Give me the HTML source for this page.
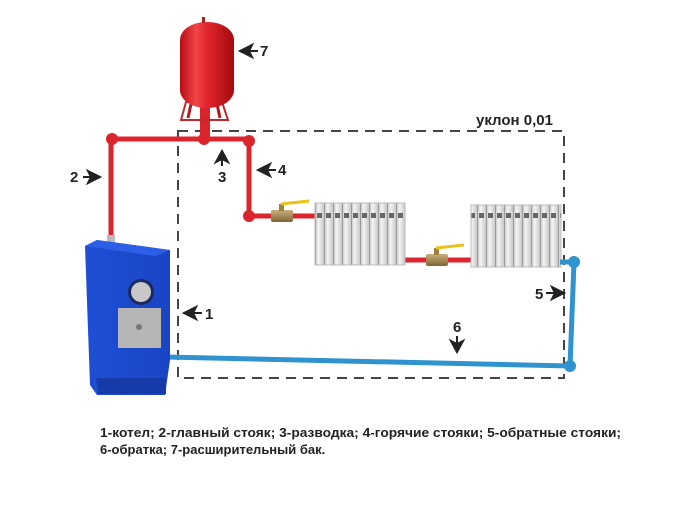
<!DOCTYPE html>
<html><head><meta charset="utf-8"><style>
html,body{margin:0;padding:0;background:#fff;}
svg{display:block;font-family:"Liberation Sans",sans-serif;}
</style></head><body>
<svg width="700" height="514" viewBox="0 0 700 514" xmlns="http://www.w3.org/2000/svg">
<defs>
<linearGradient id="tank" x1="0" x2="1"><stop offset="0" stop-color="#b80d12"/><stop offset="0.3" stop-color="#f2454a"/><stop offset="0.5" stop-color="#e0262c"/><stop offset="1" stop-color="#a30a0e"/></linearGradient>
<linearGradient id="rad" x1="0" x2="1"><stop offset="0" stop-color="#bdbdbd"/><stop offset="0.4" stop-color="#f4f4f4"/><stop offset="1" stop-color="#c8c8c8"/></linearGradient>
<linearGradient id="boil" x1="0" x2="1"><stop offset="0" stop-color="#1f4fd6"/><stop offset="1" stop-color="#1a44c4"/></linearGradient>
<linearGradient id="brass" x1="0" x2="0" y1="0" y2="1"><stop offset="0" stop-color="#c9b07a"/><stop offset="1" stop-color="#7e6535"/></linearGradient>
<pattern id="sec" width="9" height="70" patternUnits="userSpaceOnUse"><rect width="9" height="70" fill="url(#rad)"/><rect x="0" width="1" height="70" fill="#9a9a9a"/><rect x="2" y="3" width="5" height="5" fill="#666"/></pattern>
</defs>

<path d="M178 131 H564 V378 H178 Z" fill="none" stroke="#444" stroke-width="2" stroke-dasharray="10,7"/>
<text x="476" y="125" font-size="15" font-weight="bold" fill="#222">уклон 0,01</text>

<rect x="200" y="106" width="10" height="34" fill="#d7262b"/>
<path d="M186 102 L181 120 H228 L222 102 Z" fill="none" stroke="#c0282c" stroke-width="2"/>
<path d="M191 104 L188 118 M217 104 L220 118" stroke="#b01c20" stroke-width="3"/>
<rect x="180" y="22" width="54" height="86" rx="26" ry="18" fill="url(#tank)"/>
<rect x="202" y="17" width="3" height="6" fill="#b01c20"/>

<g stroke="#d9252b" stroke-width="5" fill="none">
<path d="M111 242 V139 H249 V216 H318"/>
<path d="M404 260 H472"/>
</g>
<g fill="#d9252b"><circle cx="112" cy="139" r="6"/><circle cx="204" cy="139" r="6"/><circle cx="249" cy="141" r="6"/><circle cx="249" cy="216" r="6"/></g>
<rect x="271" y="210" width="22" height="12" rx="2" fill="url(#brass)"/>
<rect x="279" y="204" width="5" height="7" fill="#a08040"/>
<path d="M281 204 L309 201" stroke="#e8c21a" stroke-width="3"/>
<rect x="426" y="254" width="22" height="12" rx="2" fill="url(#brass)"/>
<rect x="434" y="248" width="5" height="7" fill="#a08040"/>
<path d="M436 248 L464 245" stroke="#e8c21a" stroke-width="3"/>

<rect x="315" y="203" width="90" height="62" fill="url(#sec)" stroke="#bbb"/>
<rect x="471" y="205" width="90" height="62" fill="url(#sec)" stroke="#bbb"/>

<g stroke="#2f93cf" stroke-width="5" fill="none">
<path d="M560 262 H574 L570 366 L165 357"/>
</g>
<g fill="#2f93cf"><circle cx="574" cy="262" r="6"/><circle cx="570" cy="366" r="6"/></g>

<rect x="107" y="235" width="8" height="10" fill="#bbb"/>
<path d="M85 246 L97 240 L170 250 L170 360 L165 395 L97 395 L90 385 Z" fill="url(#boil)"/>
<path d="M85 246 L97 240 L170 250 L155 256 Z" fill="#2c5fe6"/>
<path d="M96 378 H166 V394 H98 Z" fill="#163aa8"/>
<circle cx="141" cy="292" r="13" fill="#1a2a60"/><circle cx="141" cy="292" r="10" fill="#c8c8c8"/>
<rect x="118" y="308" width="43" height="40" fill="#b6b6b6"/>
<circle cx="139" cy="327" r="3" fill="#777"/>

<g font-size="15" font-weight="bold" fill="#222">
<text x="260" y="56">7</text>
<path d="M240 51 L252 45 L249 51 L252 57 Z M248 51 H258" fill="#222" stroke="#222" stroke-width="2"/>
<text x="70" y="182">2</text>
<path d="M100 177 L88 171 L91 177 L88 183 Z M83 177 H92" fill="#222" stroke="#222" stroke-width="2"/>
<text x="218" y="182">3</text>
<path d="M222 151 L216 162 L222 159 L228 162 Z M222 160 V166" fill="#222" stroke="#222" stroke-width="2"/>
<text x="278" y="175">4</text>
<path d="M258 170 L270 164 L267 170 L270 176 Z M268 170 H276" fill="#222" stroke="#222" stroke-width="2"/>
<text x="205" y="319">1</text>
<path d="M184 313 L196 307 L193 313 L196 319 Z M194 313 H202" fill="#222" stroke="#222" stroke-width="2"/>
<text x="535" y="299">5</text>
<path d="M564 293 L552 287 L555 293 L552 299 Z M546 293 H556" fill="#222" stroke="#222" stroke-width="2"/>
<text x="453" y="332">6</text>
<path d="M457 352 L451 341 L457 344 L463 341 Z M457 336 V344" fill="#222" stroke="#222" stroke-width="2"/>
</g>

<g font-size="13" font-weight="bold" fill="#222">
<text x="100" y="437" textLength="521" lengthAdjust="spacingAndGlyphs">1-котел; 2-главный стояк; 3-разводка; 4-горячие стояки; 5-обратные стояки;</text>
<text x="100" y="454">6-обратка; 7-расширительный бак.</text>
</g>
</svg>
</body></html>
